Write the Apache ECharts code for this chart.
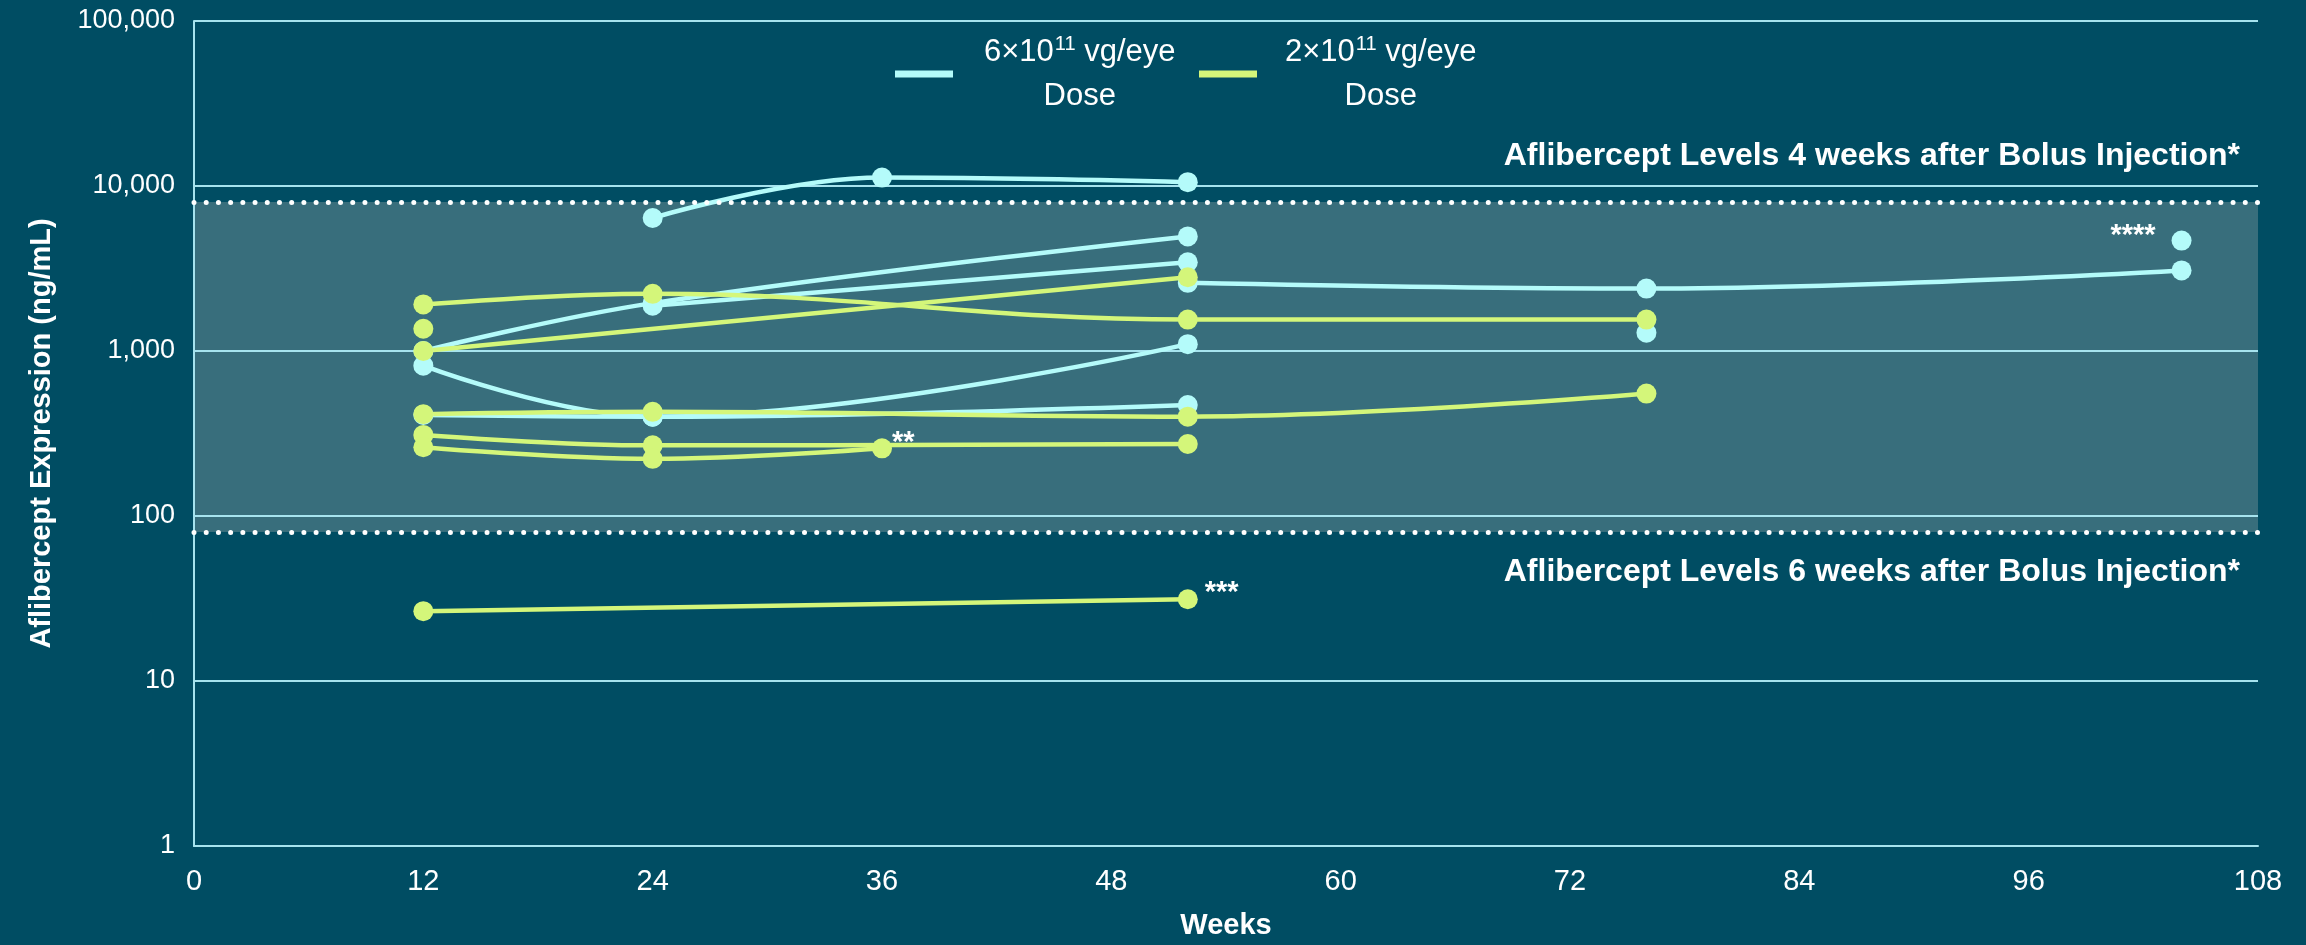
<!DOCTYPE html>
<html>
<head>
<meta charset="UTF-8">
<title>Aflibercept Expression</title>
<script src="https://cdn.jsdelivr.net/npm/echarts@6/dist/echarts.min.js"></script>
<style>
    html, body { margin: 0; padding: 0; background: #004d63; }
    #main { width: 2306px; height: 945px; }
</style>
</head>
<body>
<div id="main"></div>
<script>
    // axis ticks
    var weekTicks = [0, 12, 24, 36, 48, 60, 72, 84, 96, 108];
    var levelTicks = [1, 10, 100, 1000, 10000, 100000];

    // one array per eye: [week, ng/mL]
    var highDose = [
        [[24, 6400], [36, 11250], [52, 10550]],
        [[12, 1000], [24, 1950], [52, 4950]],
        [[24, 1880], [52, 3450]],
        [[52, 2590], [76, 2390], [104, 3080]],
        [[12, 815], [24, 400], [52, 1100]],
        [[12, 410], [24, 400], [52, 470]],
        [[76, 1290]],
        [[104, 4670]]
    ];
    var lowDose = [
        [[12, 1915], [24, 2220], [52, 1550], [76, 1550]],
        [[12, 1000], [52, 2800]],
        [[12, 1365]],
        [[12, 414], [24, 428], [52, 400], [76, 552]],
        [[12, 310], [24, 268], [52, 273]],
        [[12, 261], [24, 222], [36, 257]],
        [[12, 26.5], [52, 31.3]]
    ];

    // bolus injection reference levels
    var bolusLevels = [8000, 80];
    var bolusLabels = ['Aflibercept Levels 4 weeks after Bolus Injection*',
                       'Aflibercept Levels 6 weeks after Bolus Injection*'];

    // significance marks: group, eye, point, text, side
    var notes = [
        ['low', 5, 2, '**', 'right'],
        ['low', 6, 1, '***', 'right'],
        ['high', 7, 0, '****', 'left']
    ];

    // legend names, ^ marks the exponent
    var doseNames = ['6×10^11 vg/eye Dose', '2×10^11 vg/eye Dose'];

    var font = '"Liberation Sans", Arial, sans-serif';
    var cyan = '#b4fbfa', lime = '#d4f67a', gridColor = '#a6e3ee', band = '#386e7c';

    function makeSeries(list, group, name, color) {
        return list.map(function (pts, e) {
            return {
                name: name,
                type: 'line',
                smooth: 0.4,
                symbol: 'circle',
                symbolSize: 20,
                showSymbol: true,
                lineStyle: {color: color, width: 4.5},
                itemStyle: {color: color},
                data: pts.map(function (p, i) {
                    var n = notes.filter(function (x) { return x[0] === group && x[1] === e && x[2] === i; })[0];
                    if (!n) return p;
                    return {
                        value: p,
                        label: {
                            show: true, formatter: n[3], position: n[4],
                            color: '#fff', fontSize: 29, fontWeight: 'bold', fontFamily: font,
                            offset: n[4] === 'left' ? [-11, -5] : (n[3] === '**' ? [-5, -5] : [2, -6])
                        }
                    };
                })
            };
        });
    }

    var series = makeSeries(highDose, 'high', doseNames[0], cyan)
        .concat(makeSeries(lowDose, 'low', doseNames[1], lime));

    // band + dotted reference lines hang off the first series
    var refLabel = {show: true, color: '#fff', fontSize: 32, fontWeight: 'bold', fontFamily: font};
    series[0].markArea = {
        silent: true, z: 1,
        itemStyle: {color: band},
        data: [[{yAxis: bolusLevels[1]}, {yAxis: bolusLevels[0]}]]
    };
    series[0].markLine = {
        silent: true, symbol: 'none', z: 5,
        lineStyle: {color: '#fff', width: 5, type: [0.01, 12.2], cap: 'round'},
        data: [
            {yAxis: bolusLevels[0], label: Object.assign({}, refLabel, {position: 'insideEndTop', formatter: bolusLabels[0], distance: [18, 30]})},
            {yAxis: bolusLevels[1], label: Object.assign({}, refLabel, {position: 'insideEndBottom', formatter: bolusLabels[1], distance: [18, 24]})}
        ]
    };

    var myChart = echarts.init(document.getElementById('main'));
    var option = {
        animation: false,
        backgroundColor: '#004d63',
        textStyle: {fontFamily: font},
        grid: {left: 194, right: 48, top: 21, bottom: 98, containLabel: false},
        legend: doseNames.map(function (nm, k) {
            return {
                data: [nm],
                left: [895, 1199][k],
                top: 30,
                padding: 0,
                itemWidth: 58,
                itemHeight: 7,
                icon: 'rect',
                selectedMode: false,
                formatter: function (name) {
                    var m = name.match(/^(.*)\^(\d+) (.*) Dose$/);
                    return '{t|' + m[1] + '}{s|' + m[2] + '}{t| ' + m[3] + '}\n{t|Dose}';
                },
                textStyle: {
                    padding: [0, 0, 0, [26, 23][k]],
                    rich: {
                        t: {align: 'center', color: '#fff', fontSize: 31, lineHeight: 44, fontFamily: font},
                        s: {align: 'center', color: '#fff', fontSize: 20, lineHeight: 26, verticalAlign: 'top',
                            padding: [4, 0, 0, 1], fontFamily: font}
                    }
                }
            };
        }),
        xAxis: {
            type: 'value',
            min: weekTicks[0],
            max: weekTicks[weekTicks.length - 1],
            interval: weekTicks[1] - weekTicks[0],
            name: 'Weeks',
            nameLocation: 'middle',
            nameGap: 65,
            nameTextStyle: {color: '#fff', fontSize: 29, fontWeight: 'bold', fontFamily: font},
            axisLine: {show: true, lineStyle: {color: gridColor, width: 2}},
            axisTick: {show: false},
            splitLine: {show: false},
            axisLabel: {color: '#fff', fontSize: 29, margin: 21, fontFamily: font}
        },
        yAxis: {
            type: 'log',
            logBase: 10,
            min: levelTicks[0],
            max: levelTicks[levelTicks.length - 1],
            interval: 1,
            z: 1.5,
            name: 'Aflibercept Expression (ng/mL)',
            nameLocation: 'middle',
            nameRotate: 90,
            nameGap: 138,
            nameTextStyle: {color: '#fff', fontSize: 29, fontWeight: 'bold', fontFamily: font},
            axisLine: {show: true, lineStyle: {color: gridColor, width: 2}},
            axisTick: {show: false},
            splitLine: {show: true, lineStyle: {color: gridColor, width: 2}},
            axisLabel: {
                color: '#fff', fontSize: 27, margin: 19, fontFamily: font,
                formatter: function (v) { return Math.round(v).toLocaleString('en-US'); }
            }
        },
        series: series
    };
    myChart.setOption(option);
</script>
</body>
</html>
